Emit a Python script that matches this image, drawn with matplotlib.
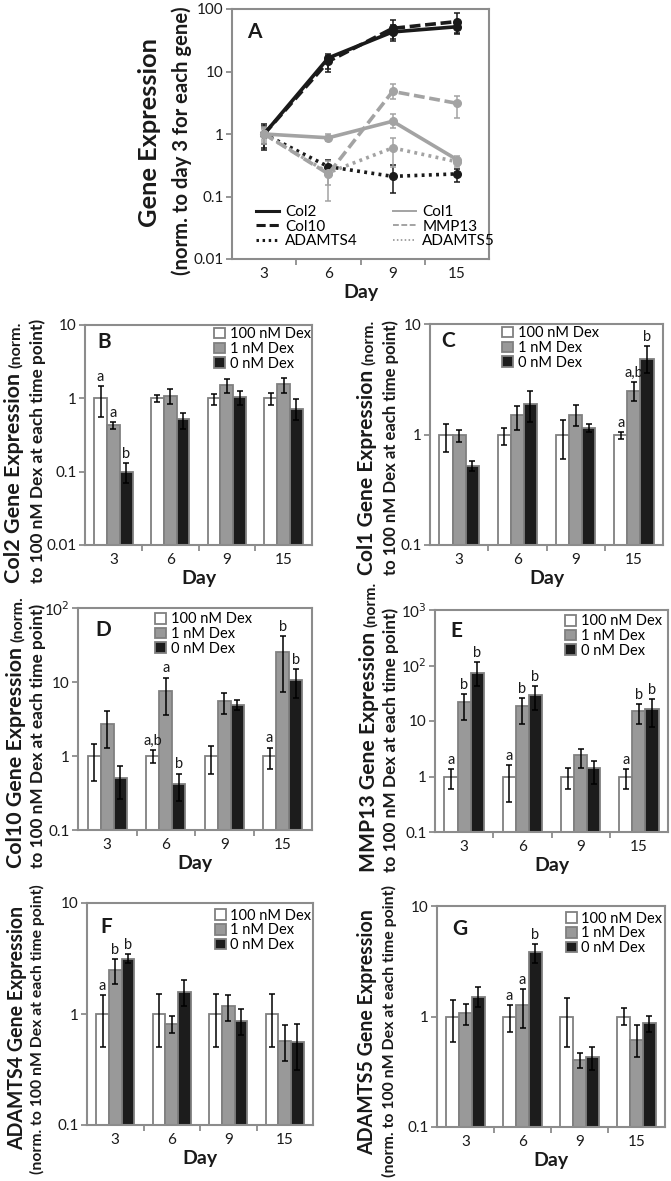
import numpy as np
import matplotlib
matplotlib.use('Agg')
import matplotlib.pyplot as plt
from matplotlib.patches import Patch
from matplotlib.lines import Line2D
from matplotlib.transforms import IdentityTransform

plt.rcParams['font.family'] = ['Lato', 'DejaVu Sans']

W, H = 671, 1181
days = ['3', '6', '9', '15']

# ---- panel A: time course, normalised to day 3 ----
genes = ['Col2', 'Col10', 'ADAMTS4', 'Col1', 'MMP13', 'ADAMTS5']
a_mean = [[1, 16.5, 43, 52], [1, 14.5, 49, 63], [1, 0.30, 0.21, 0.23],
          [1, 0.87, 1.6, 0.39], [1, 0.23, 4.8, 3.1], [1, 0.24, 0.6, 0.36]]
a_lo = [[0.7, 11, 33, 42], [0.6, 10, 31, 40], [0.55, 0.25, 0.115, 0.17],
        [0.8, 0.76, 1.25, 0.34], [0.75, 0.085, 3.6, 1.8], [0.7, 0.15, 0.3, 0.3]]
a_hi = [[1.45, 19, 55, 65], [1.3, 18, 66, 85], [1.35, 0.38, 0.32, 0.28],
        [1.2, 1.0, 2.1, 0.44], [1.25, 0.37, 6.4, 4.1], [1.3, 0.32, 0.85, 0.42]]

# ---- panels B-G: treatments per day, normalised to 100 nM Dex ----
treatments = ['100 nM Dex', '1 nM Dex', '0 nM Dex']

col2_mean = [[1, 1, 1, 1], [0.43, 1.08, 1.5, 1.55], [0.1, 0.52, 1.05, 0.72]]
col2_lo = [[0.55, 0.88, 0.8, 0.8], [0.38, 0.85, 1.2, 1.2], [0.07, 0.38, 0.8, 0.5]]
col2_hi = [[1.45, 1.1, 1.15, 1.2], [0.47, 1.35, 1.85, 1.9], [0.13, 0.63, 1.25, 0.97]]
col2_let = [['a', '', '', ''], ['a', '', '', ''], ['b', '', '', '']]

col1_mean = [[1, 1, 1, 1], [0.98, 1.5, 1.5, 2.5], [0.52, 1.9, 1.15, 4.8]]
col1_lo = [[0.7, 0.8, 0.6, 0.92], [0.85, 1.1, 1.2, 2.0], [0.47, 1.3, 1.05, 3.6]]
col1_hi = [[1.25, 1.15, 1.35, 1.06], [1.1, 1.8, 1.85, 3.0], [0.58, 2.5, 1.25, 6.3]]
col1_let = [['', '', '', 'a'], ['', '', '', 'a,b'], ['', '', '', 'b']]

col10_mean = [[1, 1, 1, 1], [2.7, 7.6, 5.5, 25.7], [0.51, 0.42, 4.9, 10.6]]
col10_lo = [[0.46, 0.81, 0.58, 0.66], [1.28, 3.6, 3.7, 7.4], [0.26, 0.25, 4.2, 6.1]]
col10_hi = [[1.45, 1.21, 1.35, 1.3], [4.0, 11.5, 7.1, 42], [0.74, 0.58, 5.7, 14.9]]
col10_let = [['', 'a,b', '', 'a'], ['', 'a', '', 'b'], ['', 'b', '', 'b']]

mmp13_mean = [[1, 1, 1, 1], [21.7, 18.5, 2.4, 15.3], [73, 30, 1.41, 16.5]]
mmp13_lo = [[0.59, 0.35, 0.59, 0.6], [10.4, 8.7, 1.45, 8.8], [42, 16, 0.73, 7.7]]
mmp13_hi = [[1.35, 1.6, 1.41, 1.35], [31, 26, 3.1, 20], [115, 42, 1.9, 25]]
mmp13_let = [['a', 'a', '', 'a'], ['b', 'b', '', 'b'], ['b', 'b', '', 'b']]

adamts4_mean = [[1, 1, 1, 1], [2.5, 0.81, 1.19, 0.57], [3.15, 1.59, 0.87, 0.56]]
adamts4_lo = [[0.5, 0.5, 0.5, 0.5], [1.86, 0.67, 0.87, 0.38], [2.86, 1.18, 0.65, 0.31]]
adamts4_hi = [[1.48, 1.5, 1.5, 1.5], [3.1, 0.95, 1.48, 0.79], [3.47, 2.02, 1.1, 0.81]]
adamts4_let = [['a', '', '', ''], ['b', '', '', ''], ['b', '', '', '']]

adamts5_mean = [[1, 1, 1, 1], [1.07, 1.27, 0.4, 0.61], [1.5, 3.8, 0.43, 0.87]]
adamts5_lo = [[0.59, 0.72, 0.53, 0.84], [0.84, 0.78, 0.34, 0.43], [1.23, 3.05, 0.33, 0.72]]
adamts5_hi = [[1.4, 1.27, 1.47, 1.2], [1.29, 1.77, 0.47, 0.83], [1.84, 4.56, 0.53, 1.02]]
adamts5_let = [['', 'a', '', ''], ['', 'a', '', ''], ['', 'b', '', '']]

black = '#1a1a1a'
grey_line = '#a3a3a3'
spine_c = '#8c8c8c'
bar_face = ['white', '#999999', '#1c1c1c']
bar_edge = '#808080'

fig = plt.figure(figsize=(W / 100, H / 100), dpi=100)


def px_axes(x0, y0, x1, y1):
    # box given in image pixels (top-left origin)
    return fig.add_axes([x0 / W, 1 - y1 / H, (x1 - x0) / W, (y1 - y0) / H])


def style_axes(ax, ylim, yticks, yticklabels):
    ax.set_yscale('log')
    ax.set_ylim(*ylim)
    ax.set_xlim(-0.5, 3.5)
    ax.set_yticks(yticks)
    ax.set_yticklabels(yticklabels)
    ax.minorticks_off()
    ax.set_xticks(range(4))
    ax.set_xticklabels(days)
    ax.set_xticks([0.5, 1.5, 2.5], minor=True)
    ax.tick_params(axis='x', which='major', length=0, labelsize=11, pad=6, labelcolor=black)
    ax.tick_params(axis='x', which='minor', length=4, width=1.3, color=spine_c, direction='out')
    ax.tick_params(axis='y', length=4, width=1.3, color=spine_c, labelsize=11, pad=2, labelcolor=black)
    for s in ax.spines.values():
        s.set_color(spine_c)
        s.set_linewidth(1.5)
    ax.set_xlabel('Day', fontsize=14, fontweight='bold', labelpad=2, color=black)


def side_line(x_base, y_bottom, length, pieces):
    # one rotated line made of (text, relative size) pieces, sharing a baseline;
    # sizes are scaled so the whole line is `length` pixels long
    r = fig.canvas.get_renderer()
    texts = [fig.text(x_base, 0, s, fontsize=size, fontweight='bold', rotation=90,
                      rotation_mode='anchor', ha='left', va='baseline',
                      transform=IdentityTransform(), color=black) for s, size in pieces]

    def measure():
        ls = [t.get_window_extent(r).height for t in texts]
        gaps = [0.3 * t.get_fontsize() for t in texts[:-1]]
        return ls, gaps

    ls, gaps = measure()
    k = length / (sum(ls) + sum(gaps))
    for t in texts:
        t.set_fontsize(t.get_fontsize() * k)
    ls, gaps = measure()
    y = H - y_bottom
    for i, t in enumerate(texts):
        t.set_position((x_base, y))
        y += ls[i] + (gaps[i] if i < len(gaps) else 0)


# ---- panel A ----
axA = px_axes(232, 9, 489, 259)
dash = (0, (3, 1.3))
dot = (0, (0.8, 1.2))
styles = [('-', black), (dash, black), (dot, black),
          ('-', grey_line), (dash, grey_line), (dot, grey_line)]
x = np.arange(4)
handles = []
for g, m, lo, hi, (ls, c) in zip(genes, a_mean, a_lo, a_hi, styles):
    m, lo, hi = np.array(m), np.array(lo), np.array(hi)
    axA.errorbar(x, m, yerr=[m - lo, hi - m], fmt='none', ecolor=c, elinewidth=1.1,
                 capsize=2.5, capthick=1.1, zorder=2)
    axA.plot(x, m, linestyle=ls, color=c, lw=2.6, marker='o', ms=5.5, zorder=3)
    handles.append(Line2D([], [], linestyle=ls, color=c, lw=2.2 if c == black else 1.4))
style_axes(axA, (0.01, 100), [0.01, 0.1, 1, 10, 100], ['0.01', '0.1', '1', '10', '100'])
axA.text(0.058, 0.884, 'A', transform=axA.transAxes, fontsize=15, fontweight='bold', color=black)
axA.legend(handles, genes, ncol=2, loc='upper left', bbox_to_anchor=(0.095, 0.215),
           frameon=False, fontsize=11, handlelength=1.5, handletextpad=0.4,
           labelspacing=0.02, columnspacing=2.3, borderpad=0, borderaxespad=0)
side_line(157, 227, 190, [('Gene Expression', 16)])
side_line(188, 275, 268, [('(norm. to day 3 for each gene)', 13)])


# ---- panels B-G ----
def bar_panel(box, mean, lo, hi, letters, ylim, yt, ytl, tag, tag_xy, leg_xy):
    ax = px_axes(*box)
    w = 0.225
    for i in range(3):
        xs = x + (i - 1) * w
        m = np.array(mean[i], dtype=float)
        l = np.array(lo[i], dtype=float)
        h = np.array(hi[i], dtype=float)
        ax.bar(xs, m - ylim[0], w, bottom=ylim[0], color=bar_face[i], edgecolor=bar_edge,
               linewidth=1.3, zorder=2)
        ax.errorbar(xs, m, yerr=[m - l, h - m], fmt='none', ecolor='black', elinewidth=1.1,
                    capsize=2.3, capthick=1.1, zorder=3)
        for xx, top, s in zip(xs, h, letters[i]):
            if s:
                ax.annotate(s, (xx, top), xytext=(0, 1.5), textcoords='offset points',
                            ha='center', va='bottom', fontsize=10.5, color=black)
    style_axes(ax, ylim, yt, ytl)
    ax.text(tag_xy[0], tag_xy[1], tag, transform=ax.transAxes, fontsize=15,
            fontweight='bold', color=black)
    hs = [Patch(facecolor=f, edgecolor=bar_edge, linewidth=1.3) for f in bar_face]
    ax.legend(hs, treatments, loc='upper left', bbox_to_anchor=leg_xy, frameon=False,
              fontsize=10.5, handlelength=0.75, handleheight=0.75, handletextpad=0.3,
              labelspacing=0.05, borderpad=0, borderaxespad=0)
    return ax


sub = 'to 100 nM Dex at each time point)'
sub2 = '(norm. to 100 nM Dex at each time point)'

bar_panel((85, 325, 312, 545), col2_mean, col2_lo, col2_hi, col2_let, (0.01, 10),
          [0.01, 0.1, 1, 10], ['0.01', '0.1', '1', '10'], 'B', (0.053, 0.895), (0.57, 0.99))
side_line(20, 583, 261, [('Col2 Gene Expression', 16), ('(norm.', 12)])
side_line(43, 583, 261, [(sub, 12)])

bar_panel((430, 324, 663, 545), col1_mean, col1_lo, col1_hi, col1_let, (0.1, 10),
          [0.1, 1, 10], ['0.1', '1', '10'], 'C', (0.05, 0.895), (0.31, 0.99))
side_line(373, 575, 255, [('Col1 Gene Expression', 16), ('(norm.', 12)])
side_line(396, 575, 255, [(sub, 12)])

bar_panel((78, 608, 312, 830), col10_mean, col10_lo, col10_hi, col10_let, (0.1, 100),
          [0.1, 1, 10, 100], ['0.1', '1', '10', '10$^2$'], 'D', (0.073, 0.874), (0.33, 0.98))
side_line(22, 868, 272, [('Col10 Gene Expression', 16), ('(norm.', 12)])
side_line(43, 868, 261, [(sub, 12)])

bar_panel((435, 610, 668, 832), mmp13_mean, mmp13_lo, mmp13_hi, mmp13_let, (0.1, 1000),
          [0.1, 1, 10, 100, 1000], ['0.1', '1', '10', '10$^2$', '10$^3$'], 'E',
          (0.064, 0.878), (0.56, 0.98))
side_line(375, 872, 290, [('MMP13 Gene Expression', 16), ('(norm.', 12)])
side_line(396, 872, 261, [(sub, 12)])

bar_panel((87, 903, 313, 1125), adamts4_mean, adamts4_lo, adamts4_hi, adamts4_let, (0.1, 10),
          [0.1, 1, 10], ['0.1', '1', '10'], 'F', (0.058, 0.865), (0.565, 0.975))
side_line(23, 1150, 245, [('ADAMTS4 Gene Expression', 14)])
side_line(42, 1174, 290, [(sub2, 11)])

bar_panel((437, 906, 665, 1127), adamts5_mean, adamts5_lo, adamts5_hi, adamts5_let, (0.1, 10),
          [0.1, 1, 10], ['0.1', '1', '10'], 'G', (0.066, 0.87), (0.565, 0.975))
side_line(373, 1155, 247, [('ADAMTS5 Gene Expression', 14)])
side_line(394, 1177, 292, [(sub2, 11)])

fig.savefig('out.png', dpi=100)
